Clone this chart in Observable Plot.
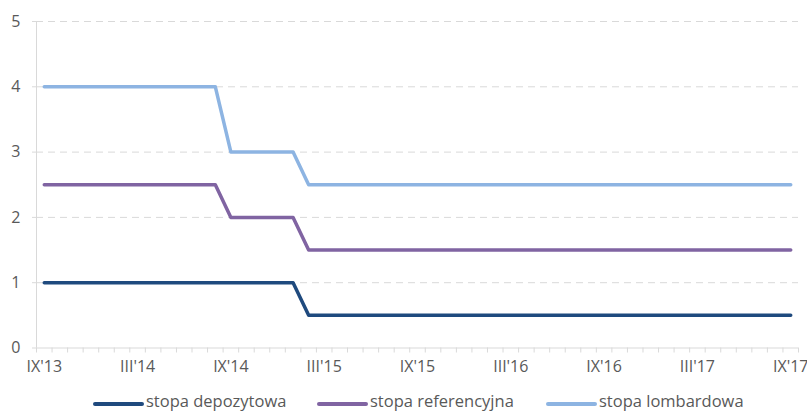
<!DOCTYPE html>
<html>
<head>
<meta charset="utf-8">
<script src="https://cdn.jsdelivr.net/npm/d3@7"></script>
<script src="https://cdn.jsdelivr.net/npm/@observablehq/plot@0.6"></script>
<style>
  html, body { margin: 0; padding: 0; background: #fff; }
  #wrap { width: 807px; height: 412px; overflow: hidden; position: relative; }
  .legend { position: absolute; left: 0; top: 385px; width: 807px; height: 27px; font-family: "Open Sans", sans-serif; font-size: 16.5px; color: #595959; }
  .item { position: absolute; top: 0; height: 27px; white-space: nowrap; }
  .sw { position: absolute; left: 0; top: 16.5px; width: 51px; height: 4px; border-radius: 2px; }
  .tx { position: absolute; left: 53px; top: 6.3px; line-height: 20px; }
  svg text { font-size: 16px; }
</style>
</head>
<body>
<div id="wrap"></div>
<script>
// Monthly categories, September 2013 to September 2017
const months = [
  "IX'13","X'13","XI'13","XII'13",
  "I'14","II'14","III'14","IV'14","V'14","VI'14","VII'14","VIII'14","IX'14","X'14","XI'14","XII'14",
  "I'15","II'15","III'15","IV'15","V'15","VI'15","VII'15","VIII'15","IX'15","X'15","XI'15","XII'15",
  "I'16","II'16","III'16","IV'16","V'16","VI'16","VII'16","VIII'16","IX'16","X'16","XI'16","XII'16",
  "I'17","II'17","III'17","IV'17","V'17","VI'17","VII'17","VIII'17","IX'17"
];

// Labelled months on the category axis
const labelledMonths = ["IX'13","III'14","IX'14","III'15","IX'15","III'16","IX'16","III'17","IX'17"];

// Interest rates, % (one value per month)
const stopaDepozytowa = [
  1,1,1,1, 1,1,1,1,1,1,1,1,1,1,1,1,
  1,0.5,0.5,0.5,0.5,0.5,0.5,0.5,0.5,0.5,0.5,0.5,
  0.5,0.5,0.5,0.5,0.5,0.5,0.5,0.5,0.5,0.5,0.5,0.5,
  0.5,0.5,0.5,0.5,0.5,0.5,0.5,0.5,0.5
];
const stopaReferencyjna = [
  2.5,2.5,2.5,2.5, 2.5,2.5,2.5,2.5,2.5,2.5,2.5,2.5,2,2,2,2,
  2,1.5,1.5,1.5,1.5,1.5,1.5,1.5,1.5,1.5,1.5,1.5,
  1.5,1.5,1.5,1.5,1.5,1.5,1.5,1.5,1.5,1.5,1.5,1.5,
  1.5,1.5,1.5,1.5,1.5,1.5,1.5,1.5,1.5
];
const stopaLombardowa = [
  4,4,4,4, 4,4,4,4,4,4,4,4,3,3,3,3,
  3,2.5,2.5,2.5,2.5,2.5,2.5,2.5,2.5,2.5,2.5,2.5,
  2.5,2.5,2.5,2.5,2.5,2.5,2.5,2.5,2.5,2.5,2.5,2.5,
  2.5,2.5,2.5,2.5,2.5,2.5,2.5,2.5,2.5
];

const seriesNames = ["stopa depozytowa", "stopa referencyjna", "stopa lombardowa"];
const seriesColors = ["#1f4a7e", "#8064a2", "#8db4e2"];
const seriesValues = [stopaDepozytowa, stopaReferencyjna, stopaLombardowa];

const yTicks = [0, 1, 2, 3, 4, 5];

const data = seriesValues.flatMap((vals, s) =>
  vals.map((v, i) => ({ i, month: months[i], value: v, series: seriesNames[s] }))
);

const boundaries = d3.range(months.length + 1).map(k => k - 0.5);
const labelIdx = labelledMonths.map(m => months.indexOf(m));

const axisColor = "#d9d9d9";
const textColor = "#595959";

const chart = Plot.plot({
  width: 807,
  height: 385,
  marginLeft: 36,
  marginRight: 9,
  marginTop: 21,
  marginBottom: 37.5,
  style: { fontFamily: "'Open Sans', sans-serif", fontSize: "16px", color: textColor, background: "#fff" },
  x: { type: "linear", domain: [-0.5, months.length - 0.5], axis: null },
  y: { domain: [0, 5], axis: null },
  color: { domain: seriesNames, range: seriesColors },
  marks: [
    Plot.gridY(yTicks.filter(t => t > 0), { stroke: axisColor, strokeOpacity: 1, strokeWidth: 1, strokeDasharray: "7,5" }),
    Plot.axisY(yTicks, { tickSize: 4, tickPadding: 12, tickFormat: d => String(d), stroke: axisColor, fill: textColor, label: null }),
    Plot.ruleX([-0.5], { stroke: axisColor, strokeWidth: 1 }),
    Plot.ruleY([0], { stroke: axisColor, strokeWidth: 1 }),
    Plot.axisX(boundaries, { tickSize: 5, tickFormat: () => "", stroke: axisColor, label: null }),
    Plot.axisX(labelIdx, { tickSize: 0, tickPadding: 13, tickFormat: k => months[k], fill: textColor, label: null }),
    Plot.line(data, {
      x: "i", y: "value", z: "series", stroke: "series",
      strokeWidth: 3.5, strokeLinejoin: "round", strokeLinecap: "round"
    })
  ]
});

const wrap = document.getElementById("wrap");
wrap.appendChild(chart);

// Legend below the plot
const legend = document.createElement("div");
legend.className = "legend";
const lefts = [93, 317, 546];
seriesNames.forEach((name, k) => {
  const it = document.createElement("div");
  it.className = "item";
  it.style.left = lefts[k] + "px";
  const sw = document.createElement("span");
  sw.className = "sw";
  sw.style.background = seriesColors[k];
  const tx = document.createElement("span");
  tx.className = "tx";
  tx.textContent = name;
  it.appendChild(sw);
  it.appendChild(tx);
  legend.appendChild(it);
});
wrap.appendChild(legend);
</script>
</body>
</html>
